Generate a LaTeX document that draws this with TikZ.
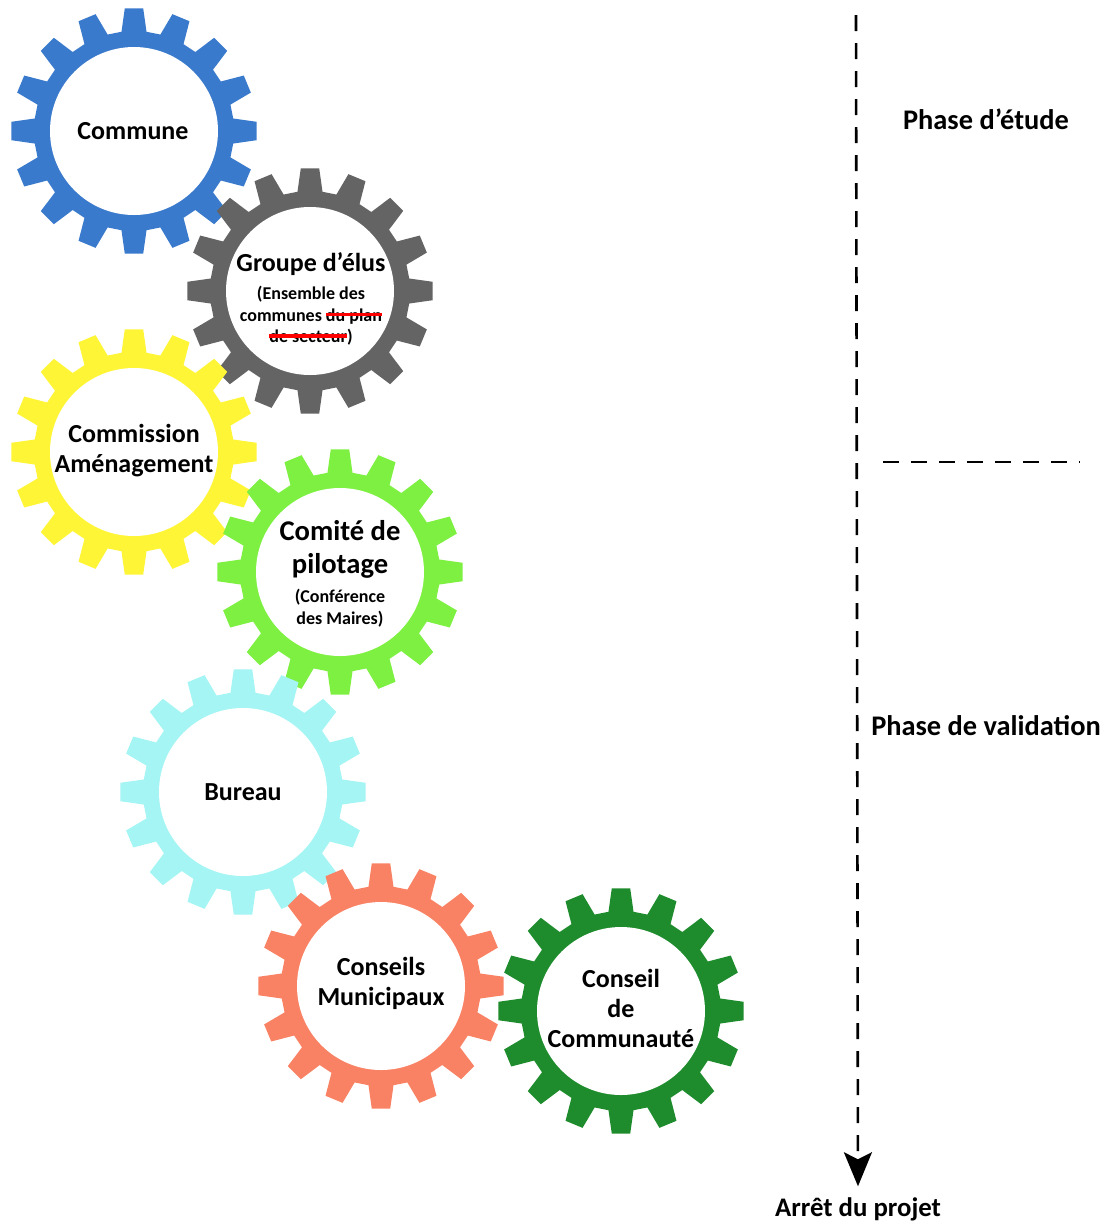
\documentclass[tikz,border=0pt]{standalone}
\usepackage{fontspec}
\setmainfont{Carlito}
\usetikzlibrary{arrows.meta}

\definecolor{cogBlue}{RGB}{58,122,204}
\definecolor{cogGray}{RGB}{100,100,100}
\definecolor{cogYellow}{RGB}{255,245,55}
\definecolor{cogLime}{RGB}{125,240,65}
\definecolor{cogCyan}{RGB}{165,245,245}
\definecolor{cogSalmon}{RGB}{250,130,100}
\definecolor{cogGreen}{RGB}{30,140,45}

\newlength{\strikelen}
\newcommand{\redsout}[1]{\settowidth{\strikelen}{#1}#1\llap{\textcolor{red}{\rule[0.6ex]{\strikelen}{1.6pt}}}}

\begin{document}
\begin{tikzpicture}[x=0.5pt, y=-0.5pt]
	\def\phasex{856}
	\def\labelx{986}

	\tikzset{
		cog/.pic={
			\fill[pic actions] (-7.2:100) \foreach \a in {0,22.5,...,337.5}{ -- (\a-7.2:100) -- (\a-4.3:123) -- (\a+4.3:123) -- (\a+7.2:100)} -- cycle;
			\fill[white] (0,0) circle (84);
		},
		cogtitle/.style={font=\bfseries\fontsize{13}{15}\selectfont, align=center, inner sep=0pt},
		cogbig/.style={font=\bfseries\fontsize{14.3}{16.5}\selectfont, align=center, inner sep=0pt},
		cogsub/.style={font=\bfseries\fontsize{9}{10.75}\selectfont, align=center, inner sep=0pt},
		phasetext/.style={font=\bfseries\fontsize{14.2}{17}\selectfont},
		phaseline/.style={line width=1.3pt, dash pattern=on 8pt off 6pt, black}
	}

	\useasboundingbox (0,0) rectangle (1109,1223);

	% gears
	\pic[fill=cogBlue]   at (134,131)  {cog};
	\pic[fill=cogGray]   at (310,291)  {cog};
	\pic[fill=cogYellow] at (134,452)  {cog};
	\pic[fill=cogLime]   at (340,572)  {cog};
	\pic[fill=cogCyan]   at (243,792)  {cog};
	\pic[fill=cogSalmon] at (381,986)  {cog};
	\pic[fill=cogGreen]  at (621,1011) {cog};

	% gear labels
	\node[cogtitle] (commune) at (133,131) {Commune};
	\node[cogtitle] (elus) at (311,264) {Groupe d’élus};
	\node[cogsub] (elusSub) at (311,316) {(Ensemble des\\communes \redsout{du plan}\\\redsout{de secteur})};
	\node[cogtitle] (commission) at (134,451) {Commission\\Aménagement};
	\node[cogbig] (comite) at (340,549) {Comité de\\pilotage};
	\node[cogsub] (comiteSub) at (340,608) {(Conférence\\des Maires)};
	\node[cogtitle] (bureau) at (243,792) {Bureau};
	\node[cogtitle] (conseils) at (381,983) {Conseils\\Municipaux};
	\node[cogtitle] (communaute) at (621,1008) {Conseil\\de\\Communauté};

	% phases
	\coordinate (start) at (\phasex,15);
	\coordinate (sepL) at (883,462);
	\coordinate (sepR) at (1080,462);
	\node[phasetext] (etude) at (\labelx,119) {Phase d’étude};
	\node[phasetext] (validation) at (\labelx,726) {Phase de validation};
	\node[phasetext, font=\bfseries\fontsize{13.4}{16}\selectfont] (arret) at (858,1209) {Arrêt du projet};

	\draw[phaseline, shorten >=2pt, -{Stealth[length=17pt, width=14pt, inset=3.5pt]}] (start) -- (arret.north);
	\draw[phaseline] (sepL) -- (sepR);
\end{tikzpicture}
\end{document}
